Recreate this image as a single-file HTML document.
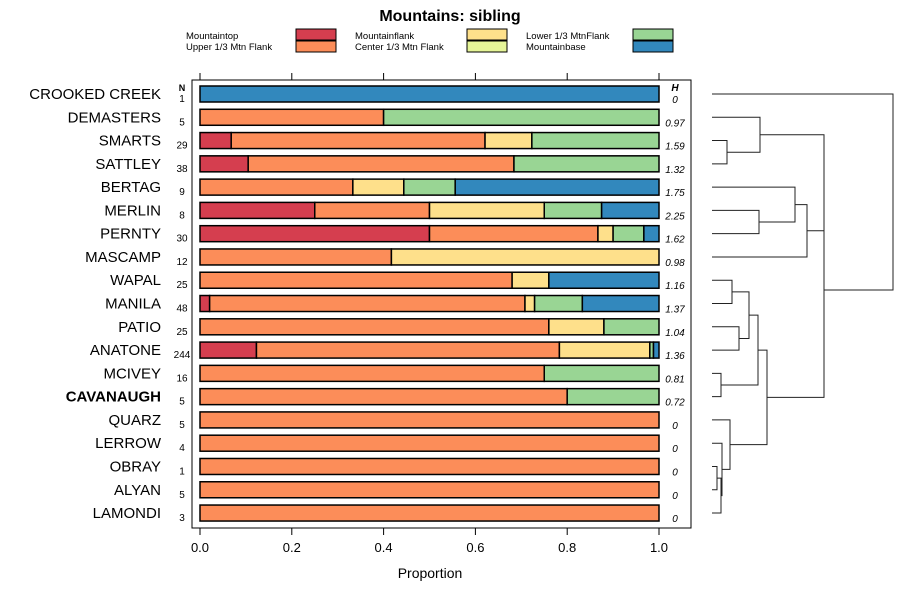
<!DOCTYPE html>
<html><head><meta charset="utf-8"><style>
body{margin:0;background:#fff;font-family:"Liberation Sans",sans-serif}
svg text{font-family:"Liberation Sans",sans-serif}
</style></head><body>
<svg id="c" width="900" height="600">
<text x="450" y="21" text-anchor="middle" font-size="16" font-weight="bold">Mountains: sibling</text>
<g id="legend"></g>
<rect x="192" y="80" width="499" height="448" fill="none" stroke="#000"/>
<g id="axes"></g><g id="bars"></g><g id="labels"></g><g id="dendro"></g>
<text x="430" y="578" text-anchor="middle" font-size="14">Proportion</text>
</svg>
<script>
const categories=["Mountaintop","Upper 1/3 Mtn Flank","Mountainflank","Center 1/3 Mtn Flank","Lower 1/3 MtnFlank","Mountainbase"];
const colors=["#d53e4f","#fc8d59","#fee08b","#e6f598","#99d594","#3288bd"];
const sites=["CROOKED CREEK","DEMASTERS","SMARTS","SATTLEY","BERTAG","MERLIN","PERNTY","MASCAMP","WAPAL","MANILA","PATIO","ANATONE","MCIVEY","CAVANAUGH","QUARZ","LERROW","OBRAY","ALYAN","LAMONDI"];
const nValues=[1,5,29,38,9,8,30,12,25,48,25,244,16,5,5,4,1,5,3];
const hValues=["0","0.97","1.59","1.32","1.75","2.25","1.62","0.98","1.16","1.37","1.04","1.36","0.81","0.72","0","0","0","0","0"];
const mountaintop=[0,0,0.068,0.105,0,0.25,0.5,0,0,0.021,0,0.123,0,0,0,0,0,0,0];
const upperFlank=[0,0.4,0.553,0.579,0.333,0.25,0.367,0.417,0.68,0.687,0.76,0.66,0.75,0.8,1,1,1,1,1];
const mountainflank=[0,0,0.102,0,0.111,0.25,0.033,0.583,0.08,0.021,0.12,0.197,0,0,0,0,0,0,0];
const centerFlank=[0,0,0,0,0,0,0,0,0,0,0,0,0,0,0,0,0,0,0];
const lowerFlank=[0,0.6,0.277,0.316,0.112,0.125,0.067,0,0,0.104,0.12,0.008,0.25,0.2,0,0,0,0,0];
const mountainbase=[1,0,0,0,0.444,0.125,0.033,0,0.24,0.167,0,0.012,0,0,0,0,0,0,0];
const xTicks=[0,0.2,0.4,0.6,0.8,1.0];
const series=[mountaintop,upperFlank,mountainflank,centerFlank,lowerFlank,mountainbase];
const NS="http://www.w3.org/2000/svg";
function mk(p,t,a,txt){const e=document.createElementNS(NS,t);for(const k in a)e.setAttribute(k,a[k]);if(txt!==undefined)e.textContent=txt;p.appendChild(e);return e;}
const X=v=>200+v*459;
const Y=i=>94+i*23.28;
const svg=document.getElementById('c');
const lg=document.getElementById('legend');
const lcols=[[186,296],[355,467],[526,633]];
categories.forEach((c,k)=>{const col=Math.floor(k/2),row=k%2;
const t=mk(lg,'text',{x:lcols[col][0],y:39+row*11,'font-size':9.5},c);


const r=mk(lg,'rect',{x:lcols[col][1],y:29+row*12,width:40,height:11,fill:colors[k],stroke:'#000'});

});
const ax=document.getElementById('axes');
xTicks.forEach(v=>{mk(ax,'line',{x1:X(v),x2:X(v),y1:73,y2:80,stroke:'#000'});mk(ax,'line',{x1:X(v),x2:X(v),y1:528,y2:535,stroke:'#000'});
const t=mk(ax,'text',{x:X(v),y:552,'text-anchor':'middle','font-size':13},v.toFixed(1));

});
const bg=document.getElementById('bars'),lb=document.getElementById('labels');
sites.forEach((s,i)=>{let cum=0;const y=Y(i);
series.forEach((ser,k)=>{const v=ser[i];if(v>0){const r=mk(bg,'rect',{x:X(cum),y:y-8,width:X(cum+v)-X(cum),height:16,fill:colors[k],stroke:'#000','stroke-width':1.5});


cum+=v;}});
const t=mk(lb,'text',{x:161,y:y+5,'text-anchor':'end','font-size':15,'font-weight':s==='CAVANAUGH'?'bold':'normal'},s);


const n=mk(lb,'text',{x:182,y:y+8,'text-anchor':'middle','font-size':10},nValues[i]);


const h=mk(lb,'text',{x:675,y:y+9,'text-anchor':'middle','font-size':10,'font-style':'italic'},hValues[i]);

});
mk(lb,'text',{x:182,y:91,'text-anchor':'middle','font-size':9,'font-weight':'bold'},'N');
mk(lb,'text',{x:675,y:91,'text-anchor':'middle','font-size':10,'font-weight':'bold','font-style':'italic'},'H');
const merges=[[2,3,727],[1,'a',760],[5,6,759],[4,'c',795],['d',7,807],['b','e',824],[8,9,732],[10,11,739],['g','h',749],[12,13,721],['i','j',758],[16,17,717],['l',18,721],[15,'m',722],[14,'n',730],['k','o',767],['f','p',824],[0,'q',893]];
const names="abcdefghijklmnopqr";const node={};
const dg=document.getElementById('dendro');
function pos(r){return typeof r==='number'?{x:712,y:Y(r)}:node[r];}
merges.forEach((m,k)=>{const a=pos(m[0]),b=pos(m[1]),h=m[2];
mk(dg,'path',{d:`M${a.x},${a.y}H${h}V${b.y}H${b.x}`,fill:'none',stroke:'#222','stroke-width':1});
node[names[k]]={x:h,y:(a.y+b.y)/2};});
</script>
</body></html>
